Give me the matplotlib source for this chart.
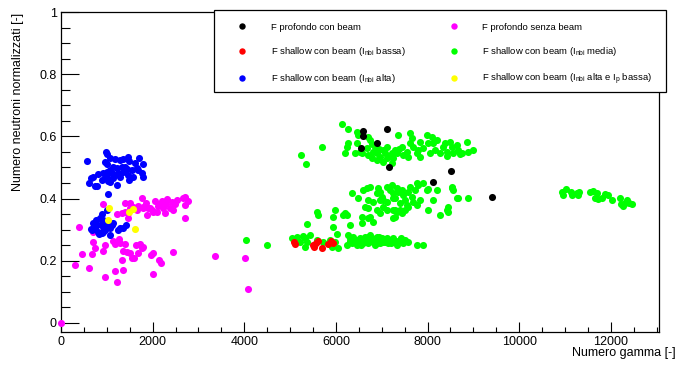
import numpy as np
import matplotlib
matplotlib.use('Agg')
import matplotlib.pyplot as plt
from matplotlib.lines import Line2D
from matplotlib.patches import Rectangle
from matplotlib.ticker import MultipleLocator, FuncFormatter

plt.rcParams['font.family'] = 'Liberation Sans'
plt.rcParams['mathtext.fontset'] = 'custom'
plt.rcParams['mathtext.rm'] = 'Liberation Sans'

# F profondo con beam (black)
prof_beam_x = [6590, 6590, 7107, 6889, 6546, 7150, 8510, 8124, 9411]
prof_beam_y = [0.617, 0.601, 0.623, 0.580, 0.562, 0.500, 0.490, 0.453, 0.406]

# F profondo senza beam (magenta)
prof_nobeam_x = [0, 924, 1396, 1505, 1760, 1687, 1796, 1855, 1942, 2051, 2124, 2196, 2291, 2320, 2415,
                 2487, 2538, 2655, 2706, 2778, 2706, 2706, 2269, 2087, 1869, 1651, 1469, 1469, 1324, 1215,
                 2451, 2378, 2218, 1978, 2160, 2015, 1905, 1782, 1578, 1505, 1396,
                 400, 706, 706, 742, 960, 909, 684, 451, 306, 611, 967, 1178, 1215, 1360, 1324,
                 1142, 1178, 1273, 1287, 1396, 1360, 1433, 1505, 1542, 1593, 1687, 1636, 1724, 1760, 1796,
                 1956, 2015, 2146, 2175, 2015, 2436, 3360, 4015, 4080]
prof_nobeam_y = [0.0, 0.383, 0.385, 0.385, 0.403, 0.377, 0.369, 0.385, 0.371, 0.392, 0.377, 0.392, 0.382, 0.399, 0.390,
                 0.382, 0.396, 0.401, 0.406, 0.393, 0.380, 0.336, 0.353, 0.358, 0.347, 0.363, 0.353, 0.336, 0.353, 0.349,
                 0.363, 0.371, 0.369, 0.363, 0.383, 0.358, 0.369, 0.374, 0.374, 0.369, 0.358,
                 0.308, 0.294, 0.259, 0.242, 0.251, 0.233, 0.222, 0.221, 0.186, 0.178, 0.149, 0.168, 0.131, 0.170, 0.202,
                 0.264, 0.253, 0.269, 0.256, 0.253, 0.233, 0.229, 0.224, 0.208, 0.210, 0.224, 0.251, 0.253, 0.240, 0.245,
                 0.219, 0.224, 0.202, 0.192, 0.156, 0.229, 0.216, 0.209, 0.109]

# F shallow con beam, I_nbi bassa (red)
low_x = [5091, 5106, 5505, 5520, 5564, 5614, 5695, 5819, 5885, 5942]
low_y = [0.261, 0.254, 0.251, 0.245, 0.258, 0.265, 0.242, 0.253, 0.264, 0.256]

# F shallow con beam, I_nbi media (green)
mid_x = [6139, 6270, 6452, 6488, 6706, 6743, 6779, 6466, 6234, 6270, 6205, 6415, 6525, 6685, 6801, 6852,
         6888, 6946, 6961, 7034, 7070, 7106, 7143, 7215, 7237, 7288, 7325, 7383, 7361, 7434, 7470, 7543,
         7579, 7615, 7615, 7652, 7688, 7761, 7797, 7834, 7834, 7906, 7979, 8015, 8052, 8088, 8125, 8161,
         8197, 8270, 8343, 8379, 8416, 8488, 8525, 8561, 8634, 8670, 8743, 8852, 8888, 8997, 6779, 6888,
         7019, 7106, 7215, 6561, 6706, 5688, 5230, 5346, 8706, 8415,
         6343, 6488, 6597, 6670, 6743, 6706, 6815, 6888, 6925, 6961, 6997, 7034, 7106, 7179, 7215, 7252,
         7288, 7325, 7361, 7434, 7470, 7506, 7543, 7579, 7615, 7652, 7688, 7725, 7761, 7834, 7906, 7979,
         8125, 8197, 8270, 8452, 8525, 8561, 8634, 8888, 8655, 8452, 8540, 6634, 6706, 6743, 6888, 6961,
         7034, 7106, 7252, 7288, 7325, 7397, 7434, 7506, 7579, 7761, 8015, 8416, 6234, 6197, 5943, 5979,
         5579, 5615, 6561, 6561, 6706, 6801, 6306, 5943, 5375, 6015, 7797, 8015, 7252, 7397, 6961, 7107,
         7288, 7434, 7252, 6161,
         4037, 4495, 5034, 5143, 5288, 5324, 5434, 5361, 5215, 5579, 5725, 5870, 5979, 6052, 5906, 5324,
         6270, 6306, 6379, 6415, 6452, 6525, 6561, 6597, 6634, 6670, 6706, 6743, 6779, 6815, 6852, 6888,
         6925, 6961, 6997, 7034, 7106, 7143, 7179, 7252, 7288, 7325, 7397, 7470, 7506, 7579, 7761, 7892,
         6234, 6343, 6300, 6480, 6600, 6650, 6820, 6900, 7000, 7080, 7200, 7350, 7420, 6550, 6700, 6950,
         10925, 11012, 10946, 11128, 11157, 11252, 11310, 11288, 11543, 11616, 11688, 11652, 11725, 11812,
         11870, 11943, 12015, 12197, 12212, 12307, 12343, 12401, 12452, 12256]
mid_y = [0.640, 0.624, 0.615, 0.605, 0.599, 0.588, 0.576, 0.580, 0.567, 0.578, 0.546, 0.548, 0.551, 0.562, 0.551, 0.565,
         0.546, 0.558, 0.535, 0.556, 0.546, 0.567, 0.535, 0.548, 0.529, 0.556, 0.546, 0.559, 0.605, 0.567, 0.540, 0.551,
         0.535, 0.578, 0.610, 0.594, 0.567, 0.546, 0.556, 0.583, 0.535, 0.562, 0.605, 0.578, 0.546, 0.599, 0.578, 0.556,
         0.588, 0.546, 0.567, 0.578, 0.551, 0.583, 0.567, 0.546, 0.572, 0.556, 0.546, 0.583, 0.551, 0.556, 0.529, 0.524,
         0.519, 0.529, 0.513, 0.546, 0.540, 0.567, 0.539, 0.511, 0.545, 0.537,
         0.419, 0.401, 0.428, 0.433, 0.438, 0.395, 0.390, 0.419, 0.433, 0.422, 0.406, 0.395, 0.438, 0.428, 0.444, 0.417,
         0.401, 0.433, 0.422, 0.428, 0.412, 0.395, 0.379, 0.422, 0.438, 0.406, 0.390, 0.428, 0.449, 0.395, 0.449, 0.428,
         0.395, 0.428, 0.347, 0.374, 0.433, 0.428, 0.401, 0.401, 0.401, 0.358, 0.436, 0.374, 0.369, 0.342, 0.363, 0.353,
         0.374, 0.363, 0.363, 0.342, 0.358, 0.363, 0.353, 0.363, 0.374, 0.379, 0.363, 0.363, 0.347, 0.353, 0.342, 0.363,
         0.358, 0.347, 0.342, 0.320, 0.336, 0.326, 0.315, 0.310, 0.318, 0.286, 0.444, 0.431, 0.401, 0.385, 0.396, 0.390,
         0.363, 0.358, 0.337, 0.347,
         0.267, 0.251, 0.274, 0.278, 0.280, 0.272, 0.283, 0.261, 0.261, 0.267, 0.261, 0.267, 0.261, 0.240, 0.245, 0.245,
         0.283, 0.272, 0.278, 0.261, 0.251, 0.272, 0.261, 0.256, 0.278, 0.267, 0.256, 0.283, 0.272, 0.261, 0.251, 0.278,
         0.267, 0.256, 0.272, 0.261, 0.272, 0.256, 0.267, 0.272, 0.261, 0.251, 0.267, 0.256, 0.267, 0.261, 0.251, 0.251,
         0.251, 0.256, 0.265, 0.268, 0.270, 0.262, 0.268, 0.258, 0.265, 0.262, 0.258, 0.265, 0.272, 0.250, 0.275, 0.278,
         0.422, 0.431, 0.412, 0.422, 0.412, 0.419, 0.422, 0.412, 0.422, 0.425, 0.417, 0.401, 0.398, 0.401,
         0.414, 0.412, 0.395, 0.401, 0.382, 0.385, 0.395, 0.387, 0.382, 0.376]

# F shallow con beam, I_nbi alta (blue)
high_x = [974, 996, 575, 1178, 960, 996, 1069, 1287, 1360, 1469, 1491, 1709, 1615, 1782, 1142, 1215,
          1324, 1396, 1433, 1542, 1651, 1687, 1069, 924, 996, 1105, 1178, 1251, 1360, 815, 706, 655,
          618, 742, 778, 960, 1033, 1069, 1215, 1491, 1578, 1760, 1782, 1469, 1287, 1142, 887, 996,
          1033,
          887, 996, 764, 851, 924, 706, 778, 742, 669, 815, 887, 836, 960, 1069, 1142, 1105,
          1033, 924, 1287, 1251, 1345, 1418, 1069, 996, 887, 647, 924]
high_y = [0.551, 0.545, 0.522, 0.526, 0.519, 0.511, 0.529, 0.524, 0.526, 0.533, 0.522, 0.532, 0.513, 0.511, 0.503, 0.497,
          0.501, 0.503, 0.494, 0.492, 0.497, 0.492, 0.492, 0.481, 0.487, 0.481, 0.476, 0.481, 0.487, 0.478, 0.470, 0.465,
          0.451, 0.440, 0.440, 0.465, 0.458, 0.454, 0.444, 0.460, 0.470, 0.481, 0.470, 0.476, 0.470, 0.465, 0.460, 0.470,
          0.414,
          0.350, 0.363, 0.331, 0.336, 0.331, 0.320, 0.315, 0.304, 0.299, 0.294, 0.288, 0.286, 0.299, 0.304, 0.320, 0.315,
          0.310, 0.310, 0.304, 0.299, 0.307, 0.315, 0.282, 0.320, 0.320, 0.301, 0.294]

# F shallow con beam, I_nbi alta e I_p bassa (yellow)
highlow_x = [1054, 1564, 1484, 1019, 1615]
highlow_y = [0.371, 0.368, 0.357, 0.331, 0.303]

series = [
    (prof_nobeam_x, prof_nobeam_y, '#ff00ff'),
    (mid_x, mid_y, '#00ff00'),
    (high_x, high_y, '#0000ff'),
    (low_x, low_y, '#ff0000'),
    (highlow_x, highlow_y, '#ffff00'),
    (prof_beam_x, prof_beam_y, '#000000'),
]

fig = plt.figure(figsize=(6.77, 3.65), dpi=100)
ax = fig.add_axes([0.0901, 0.0904, 0.8833, 0.8767])

for xs, ys, c in series:
    ax.scatter(xs, ys, s=26, c=c, marker='o', linewidths=0, clip_on=False, zorder=3)

ax.set_xlim(0, 13050)
ax.set_ylim(-0.029, 1.0)

ax.xaxis.set_major_locator(MultipleLocator(2000))
ax.xaxis.set_minor_locator(MultipleLocator(500))
ax.yaxis.set_major_locator(MultipleLocator(0.2))
ax.yaxis.set_minor_locator(MultipleLocator(0.05))
ax.yaxis.set_major_formatter(FuncFormatter(lambda v, p: '%g' % round(v, 2)))
ax.xaxis.set_major_formatter(FuncFormatter(lambda v, p: '%d' % v))

ax.tick_params(axis='both', which='both', direction='in', top=False, right=False,
               labelsize=9, width=0.8, colors='black')
ax.tick_params(axis='y', which='major', length=13, pad=3)
ax.tick_params(axis='y', which='minor', length=6.5)
ax.tick_params(axis='x', which='major', length=7, pad=3)
ax.tick_params(axis='x', which='minor', length=3.5)
for sp in ax.spines.values():
    sp.set_linewidth(0.9)

fig.text(676 / 677, 1 - 353 / 365, 'Numero gamma [-]', ha='right', va='center', fontsize=9)
fig.text(18 / 677, 1 - 13 / 365, 'Numero neutroni normalizzati [-]', rotation=90,
         ha='center', va='top', fontsize=9)

# legend box
fig.patches.append(Rectangle((214 / 677, 1 - 92 / 365), (666 - 214) / 677, 82 / 365,
                             transform=fig.transFigure, facecolor='white', edgecolor='black',
                             linewidth=0.9, zorder=5))

labels = ['F profondo con beam',
          r'F shallow con beam (I$_{\mathregular{nbi}}$ bassa)',
          r'F shallow con beam (I$_{\mathregular{nbi}}$ alta)',
          'F profondo senza beam',
          r'F shallow con beam (I$_{\mathregular{nbi}}$ media)',
          r'F shallow con beam (I$_{\mathregular{nbi}}$ alta e I$_{\mathregular{p}}$ bassa)']
colors = ['#000000', '#ff0000', '#0000ff', '#ff00ff', '#00ff00', '#ffff00']
handles = [Line2D([], [], linestyle='none', marker='o', markersize=4.6, markeredgewidth=0,
                  color=c) for c in colors]
leg = fig.legend(handles, labels, ncol=2, loc='upper left',
                 bbox_to_anchor=(214 / 677, 1 - 16 / 365), frameon=False, fontsize=6.8,
                 handlelength=4.6, handletextpad=0.7, columnspacing=2.8, labelspacing=1.45,
                 borderpad=0.2)
leg.set_zorder(6)

fig.savefig('out.png', dpi=100)
